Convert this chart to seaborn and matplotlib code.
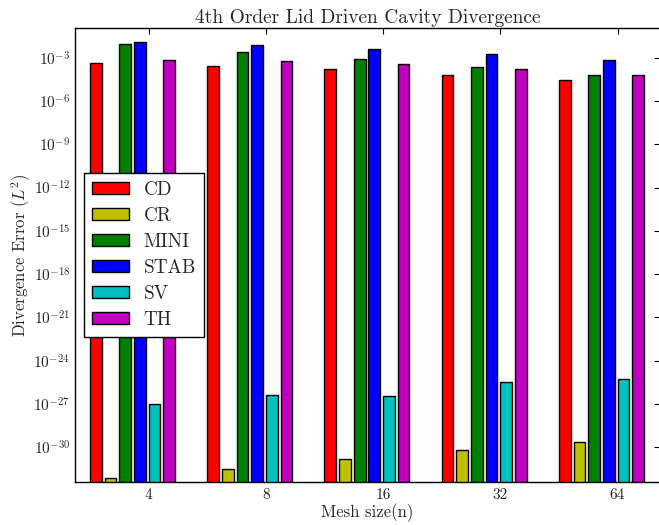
import matplotlib
matplotlib.use("Agg")
import matplotlib.pyplot as plt
from matplotlib.patches import Patch
from matplotlib.ticker import FixedLocator, LogFormatterSciNotation, NullLocator
import numpy as np
import pandas as pd
import seaborn as sns

# Divergence error (L2) per element pair and mesh size
mesh_sizes = ["4", "8", "16", "32", "64"]
methods = ["CD", "CR", "MINI", "STAB", "SV", "TH"]
colors = ["#ff0000", "#bfbf00", "#008000", "#0000ff", "#00bfbf", "#bf00bf"]

cd = [4.3e-4, 2.8e-4, 1.5e-4, 6.3e-5, 2.6e-5]
cr = [8.0e-33, 3.2e-32, 1.45e-31, 6.2e-31, 2.45e-30]
mini = [9.3e-3, 2.6e-3, 7.6e-4, 2.2e-4, 6.0e-5]
stab = [1.15e-2, 7.9e-3, 4.0e-3, 1.9e-3, 7.2e-4]
sv = [1.0e-27, 4.0e-27, 3.7e-27, 3.3e-26, 5.6e-26]
th = [6.5e-4, 5.5e-4, 3.5e-4, 1.6e-4, 6.6e-5]

series = [cd, cr, mini, stab, sv, th]
df = pd.DataFrame(
    [(m, name, v) for name, vals in zip(methods, series) for m, v in zip(mesh_sizes, vals)],
    columns=["mesh", "method", "error"],
)

sns.set_style("white")
plt.rcParams.update({
    "font.family": ["cmr10", "DejaVu Serif"],
    "mathtext.fontset": "cm",
    "axes.formatter.use_mathtext": True,
    "axes.unicode_minus": False,
    "axes.edgecolor": "black",
    "axes.linewidth": 1.0,
})

fig = plt.figure(figsize=(6.59, 5.25), dpi=100)
ax = fig.add_axes([75 / 659, 1 - 481.7 / 525, (660 - 75) / 659, (481.7 - 28.3) / 525])

sns.barplot(
    data=df, x="mesh", y="error", hue="method",
    order=mesh_sizes, hue_order=methods, palette=colors,
    width=0.75, gap=0.2, saturation=1, errorbar=None,
    edgecolor="black", linewidth=1.0, legend=False, ax=ax,
)
ax.set_yscale("log")
ax.set_ylim(10 ** -32.38, 10 ** -0.97)

# x ticks sit at the left edge of the SV bar in each group
sv_bars = ax.containers[methods.index("SV")]
tick_pos = [p.get_x() for p in sv_bars]
first_left = ax.containers[0][0].get_x()
ax.set_xlim(first_left - 0.128, first_left - 0.128 + 4.99)
ax.xaxis.set_major_locator(FixedLocator(tick_pos))
ax.set_xticklabels(mesh_sizes)

ax.yaxis.set_major_locator(FixedLocator([10.0 ** -k for k in range(3, 31, 3)]))
ax.yaxis.set_major_formatter(LogFormatterSciNotation())
ax.yaxis.set_minor_locator(NullLocator())

ax.tick_params(axis="both", which="major", direction="in", length=4, width=0.8,
               top=True, right=True, labelsize=11, color="black")
ax.tick_params(axis="x", pad=5)
ax.tick_params(axis="y", pad=3.5)

for s in ax.spines.values():
    s.set_visible(True)
    s.set_color("black")
    s.set_linewidth(1.0)

ax.set_title("4th Order Lid Driven Cavity Divergence", fontsize=14, pad=4)
ax.set_xlabel("Mesh size(n)", fontsize=12, labelpad=1)
ax.set_ylabel("Divergence Error ($L^2$)", fontsize=12, labelpad=0)

handles = [Patch(facecolor=c, edgecolor="black", linewidth=1.0, label=m)
           for c, m in zip(colors, methods)]
leg = ax.legend(handles=handles, loc="center left", fontsize=13.8, frameon=True,
                fancybox=False, framealpha=1, edgecolor="black",
                handlelength=1.95, handleheight=0.62, handletextpad=0.77,
                labelspacing=0.42, borderpad=0.42, borderaxespad=0.45)
leg.get_frame().set_linewidth(1.0)

fig.savefig("out.png", dpi=100, facecolor="white")
